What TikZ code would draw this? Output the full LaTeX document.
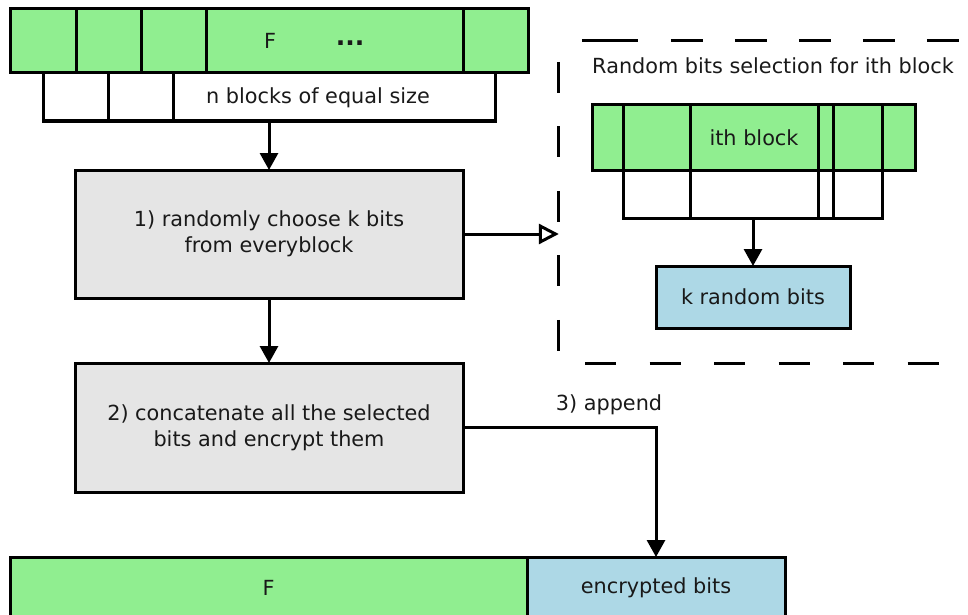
\documentclass[tikz,border=0pt]{standalone}
\usepackage{fontspec}
\setmainfont{DejaVu Sans}
\usetikzlibrary{arrows.meta}
\definecolor{lgreen}{HTML}{90EE90}
\definecolor{lblue}{HTML}{ADD8E6}
\definecolor{lgray}{HTML}{E5E5E5}
\begin{document}
\begin{tikzpicture}[x=1pt,y=-1pt,
  every node/.style={font=\fontsize{20.8}{26}\selectfont, text=black!90},
  cell/.style={draw, line width=3pt, inner sep=0pt, outer sep=0pt, align=center},
  label/.style={inner sep=0pt},
  arr/.style={line width=3pt, -{Triangle[length=17pt,width=18pt]}},
  openarr/.style={line width=3pt, -{Triangle[open,length=20pt,width=20pt,fill=white]}},
  selline/.style={line width=3pt, rounded corners=12pt}]
\useasboundingbox (0,0) rectangle (968,615);
\clip (0,0) rectangle (968,615);

% the file F split into blocks
\node[cell, fill=lgreen, minimum width=66pt, minimum height=64pt] (g1) at (43,41) {};
\node[cell, fill=lgreen, minimum width=65pt, minimum height=64pt] (g2) at (108.5,41) {};
\node[cell, fill=lgreen, minimum width=65pt, minimum height=64pt] (g3) at (173.5,41) {};
\node[cell, fill=lgreen, minimum width=257pt, minimum height=64pt] (g4) at (334.5,41) {};
\node[cell, fill=lgreen, minimum width=65pt, minimum height=64pt] (g5) at (495.5,41) {};
\node[label] (ftop) at (270,41) {F};
\node[label, font=\fontsize{25}{26}\selectfont\bfseries] (dots) at (350,43.5) {...};

\node[cell, fill=white, minimum width=65pt, minimum height=48pt] (w1) at (75.5,97) {};
\node[cell, fill=white, minimum width=65pt, minimum height=48pt] (w2) at (140.5,97) {};
\node[cell, fill=white, minimum width=322pt, minimum height=48pt] (w3) at (334,97) {};
\node[label] (nblk) at (318,98) {n blocks of equal size};

% processing steps
\node[cell, fill=lgray, minimum width=388pt, minimum height=128pt] (box1) at (269,234)
  {1) randomly choose k bits\\from everyblock};
\node[cell, fill=lgray, minimum width=388pt, minimum height=129pt] (box2) at (269,427.5)
  {2) concatenate all the selected\\bits and encrypt them};

% result: F followed by the encrypted bits
\node[cell, fill=lgreen, minimum width=517pt, minimum height=61pt] (ff) at (268.5,587.5) {F};
\node[cell, fill=lblue, minimum width=258pt, minimum height=61pt] (eb) at (656,587.5) {encrypted bits};

% detail of the selection inside one block: a dashed frame
\node[inner sep=0pt, minimum width=413pt, minimum height=322pt] (sel) at (765.5,202) {};
\draw[selline, dash pattern=on 56pt off 33pt on 32pt off 32pt on 32pt off 32pt on 32pt off 32pt on 32pt off 32pt on 32pt off 32pt]
  ([xshift=23pt]sel.north west) -- (sel.north east) -- (sel.south east);
\draw[selline, dash pattern=on 31pt off 33.5pt]
  ([yshift=-21pt]sel.north west) -- (sel.south west) -- (sel.south east);
\node[label] (seltitle) at (773,66) {Random bits selection for ith block};

\node[cell, fill=lgreen, minimum width=31pt, minimum height=65pt] (ig1) at (607.5,137.5) {};
\node[cell, fill=lgreen, minimum width=67pt, minimum height=65pt] (ig2) at (656.5,137.5) {};
\node[cell, fill=lgreen, minimum width=128pt, minimum height=65pt] (ig3) at (754,137.5) {ith block};
\node[cell, fill=lgreen, minimum width=15pt, minimum height=65pt] (ig4) at (825.5,137.5) {};
\node[cell, fill=lgreen, minimum width=49pt, minimum height=65pt] (ig5) at (857.5,137.5) {};
\node[cell, fill=lgreen, minimum width=33pt, minimum height=65pt] (ig6) at (898.5,137.5) {};

\node[cell, fill=white, minimum width=67pt, minimum height=48pt] (iw1) at (656.5,194) {};
\node[cell, fill=white, minimum width=128pt, minimum height=48pt] (iw2) at (754,194) {};
\node[cell, fill=white, minimum width=15pt, minimum height=48pt] (iw3) at (825.5,194) {};
\node[cell, fill=white, minimum width=49pt, minimum height=48pt] (iw4) at (857.5,194) {};

\node[cell, fill=lblue, minimum width=194pt, minimum height=62pt] (kb) at (753,297) {k random bits};

% connectors
\draw[arr] (box1.north |- w3.south) -- (box1.north);
\draw[arr] (box1.south) -- (box2.north);
\draw[openarr] (box1.east) -- (sel.west |- box1.east);
\draw[arr] (kb.north |- iw2.south) -- (kb.north);
\draw[arr] (box2.east) -| (eb.north);
\node[label] (app) at (609,405) {3) append};
\end{tikzpicture}
\end{document}
